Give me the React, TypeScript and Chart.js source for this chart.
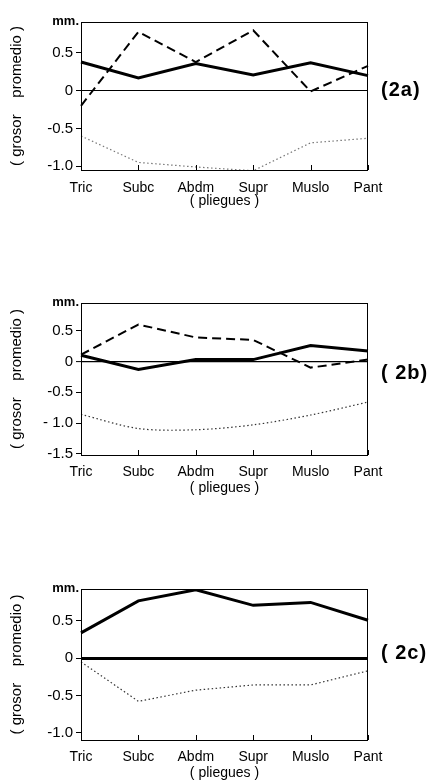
import React, { useEffect, useRef } from "react";
import { Chart, registerables } from "chart.js";

Chart.register(...registerables);

// ---------- data ----------
const categories = ["Tric", "Subc", "Abdm", "Supr", "Muslo", "Pant"];

const solidA = [0.38, 0.17, 0.36, 0.21, 0.37, 0.2];
const dashedA = [-0.2, 0.78, 0.38, 0.8, -0.01, 0.33];
const dottedA = [-0.6, -0.95, -1.01, -1.06, -0.69, -0.63];

const solidB = [0.1, -0.13, 0.03, 0.03, 0.26, 0.17];
const dashedB = [0.11, 0.6, 0.39, 0.35, -0.1, 0.03];
const dottedB = [-0.86, -1.09, -1.11, -1.03, -0.87, -0.66];

const solidC = [0.34, 0.77, 0.92, 0.71, 0.75, 0.51];
const dottedC = [-0.05, -0.58, -0.43, -0.36, -0.36, -0.17];

const yTicksA = [0.5, 0, -0.5, -1.0];
const yTickLabelsA = ["0.5", "0", "-0.5", "-1.0"];
const yTicksB = [0.5, 0, -0.5, -1.0, -1.5];
const yTickLabelsB = ["0.5", "0", "-0.5", "- 1.0", "-1.5"];
const yTicksC = [0.5, 0, -0.5, -1.0];
const yTickLabelsC = ["0.5", "0", "-0.5", "-1.0"];

const unitLabel = "mm.";
const yTitle = "( grosor    promedio )";
const xTitle = "( pliegues )";

// ---------- styles ----------
const FONT = "'Liberation Sans', Arial, sans-serif";
Chart.defaults.color = "#000";
Chart.defaults.font.family = FONT;

function solidDs(data: number[]) {
  return { label: "solid", data, borderColor: "#000", borderWidth: 3, pointRadius: 0, tension: 0, fill: false };
}
function dashedDs(data: number[]) {
  return { label: "dashed", data, borderColor: "#000", borderWidth: 2, borderDash: [9, 5], pointRadius: 0, tension: 0, fill: false };
}
function dottedDs(data: number[], color: string, tension: number) {
  return { label: "dotted", data, borderColor: color, borderWidth: 1.2, borderDash: [1.5, 2.5], pointRadius: 0, tension, fill: false };
}

type PanelCfg = {
  id: string;
  top: number;
  height: number;
  padTop: number;
  xHeight: number;
  yMin: number;
  yMax: number;
  ticks: number[];
  tickLabels: string[];
  datasets: any[];
  tag: string;
  tagDy: number;
  zeroWidth: number;
  xLabelPad: number;
  xTitlePad: number;
};

const panels: PanelCfg[] = [
  {
    id: "a", top: 0, height: 210, padTop: 22, xHeight: 40,
    yMin: -1.05, yMax: 0.91, ticks: yTicksA, tickLabels: yTickLabelsA,
    datasets: [dottedDs(dottedA, "#777", 0), dashedDs(dashedA), solidDs(solidA)],
    tag: "(2a)", tagDy: 0, zeroWidth: 1, xLabelPad: 10, xTitlePad: 0,
  },
  {
    id: "b", top: 280, height: 220, padTop: 23, xHeight: 45,
    yMin: -1.52, yMax: 0.95, ticks: yTicksB, tickLabels: yTickLabelsB,
    datasets: [dottedDs(dottedB, "#333", 0.3), dashedDs(dashedB), solidDs(solidB)],
    tag: "( 2b)", tagDy: 12, zeroWidth: 1.2, xLabelPad: 9, xTitlePad: 3,
  },
  {
    id: "c", top: 565, height: 217, padTop: 24, xHeight: 42,
    yMin: -1.1, yMax: 0.93, ticks: yTicksC, tickLabels: yTickLabelsC,
    datasets: [dottedDs(dottedC, "#333", 0), solidDs(solidC)],
    tag: "( 2c)", tagDy: -5, zeroWidth: 3, xLabelPad: 9, xTitlePad: 0,
  },
];

const decorPlugin = {
  id: "decor",
  afterDraw(chart: any, _args: any, opts: any) {
    const { ctx, chartArea } = chart;
    const { left, right, top, bottom } = chartArea;
    const xs = chart.scales.x;
    const ys = chart.scales.y;
    ctx.save();
    // frame
    ctx.strokeStyle = "#000";
    ctx.lineWidth = 1;
    ctx.setLineDash([]);
    ctx.strokeRect(left + 0.5, top + 0.5, right - left - 1, bottom - top);
    // inward x tick marks
    ctx.beginPath();
    for (let i = 0; i < xs.ticks.length; i++) {
      const x = Math.round(xs.getPixelForTick(i)) + 0.5;
      ctx.moveTo(x, bottom);
      ctx.lineTo(x, bottom - 5);
    }
    ctx.stroke();
    // unit label
    ctx.fillStyle = "#000";
    ctx.font = `bold 13px ${FONT}`;
    ctx.textAlign = "right";
    ctx.textBaseline = "alphabetic";
    ctx.fillText(opts.unit, left - 2, top + 3);
    // panel tag
    ctx.font = `bold 20px ${FONT}`;
    (ctx as any).letterSpacing = "1px";
    ctx.textAlign = "left";
    ctx.textBaseline = "middle";
    ctx.fillText(opts.tag, right + 13, ys.getPixelForValue(0) + opts.tagDy);
    ctx.restore();
  },
};

function Panel({ cfg }: { cfg: PanelCfg }) {
  const ref = useRef<HTMLCanvasElement | null>(null);
  useEffect(() => {
    if (!ref.current) return;
    const chart = new Chart(ref.current, {
      type: "line",
      data: { labels: categories, datasets: cfg.datasets },
      options: {
        responsive: false,
        animation: false,
        devicePixelRatio: 1,
        layout: { padding: { top: cfg.padTop, left: 0, right: 63, bottom: 0 } },
        plugins: {
          legend: { display: false },
          tooltip: { enabled: false },
          decor: { unit: unitLabel, tag: cfg.tag, tagDy: cfg.tagDy },
        } as any,
        scales: {
          x: {
            type: "category",
            offset: false,
            grid: { display: false, drawTicks: false },
            border: { display: false },
            ticks: {
              padding: cfg.xLabelPad,
              maxRotation: 0,
              autoSkip: false,
              font: { size: 14, family: FONT },
              color: "#000",
            },
            title: {
              display: true,
              text: xTitle,
              font: { size: 14, family: FONT },
              color: "#000",
              padding: { top: 0, bottom: cfg.xTitlePad },
            },
            afterFit: (s: any) => { s.height = cfg.xHeight; },
          },
          y: {
            min: cfg.yMin,
            max: cfg.yMax,
            afterBuildTicks: (s: any) => { s.ticks = cfg.ticks.map((v) => ({ value: v })); },
            ticks: {
              padding: 3,
              font: { size: 15, family: FONT },
              color: "#000",
              callback: (v: any) => {
                const i = cfg.ticks.indexOf(Number(v));
                return i >= 0 ? cfg.tickLabels[i] : "";
              },
            },
            grid: {
              drawOnChartArea: true,
              drawTicks: true,
              tickLength: 5,
              tickColor: "#000",
              tickWidth: 1,
              color: (c: any) => (c.tick && c.tick.value === 0 ? "#000" : "rgba(0,0,0,0)"),
              lineWidth: (c: any) => (c.tick && c.tick.value === 0 ? cfg.zeroWidth : 1),
            },
            border: { display: false },
            title: {
              display: true,
              text: yTitle,
              font: { size: 15, family: FONT },
              color: "#000",
              padding: { top: 8, bottom: 0 },
            },
            afterFit: (s: any) => { s.width = 81; },
          },
        },
      } as any,
      plugins: [decorPlugin],
    });
    return () => chart.destroy();
  }, [cfg]);
  return (
    <canvas
      ref={ref}
      width={431}
      height={cfg.height}
      style={{ position: "absolute", left: 0, top: cfg.top, width: 431, height: cfg.height }}
    />
  );
}

export default function App() {
  return (
    <div style={{ position: "absolute", left: 0, top: 0, width: 431, height: 782, background: "#fff", overflow: "hidden" }}>
      {panels.map((p) => (
        <Panel key={p.id} cfg={p} />
      ))}
    </div>
  );
}
